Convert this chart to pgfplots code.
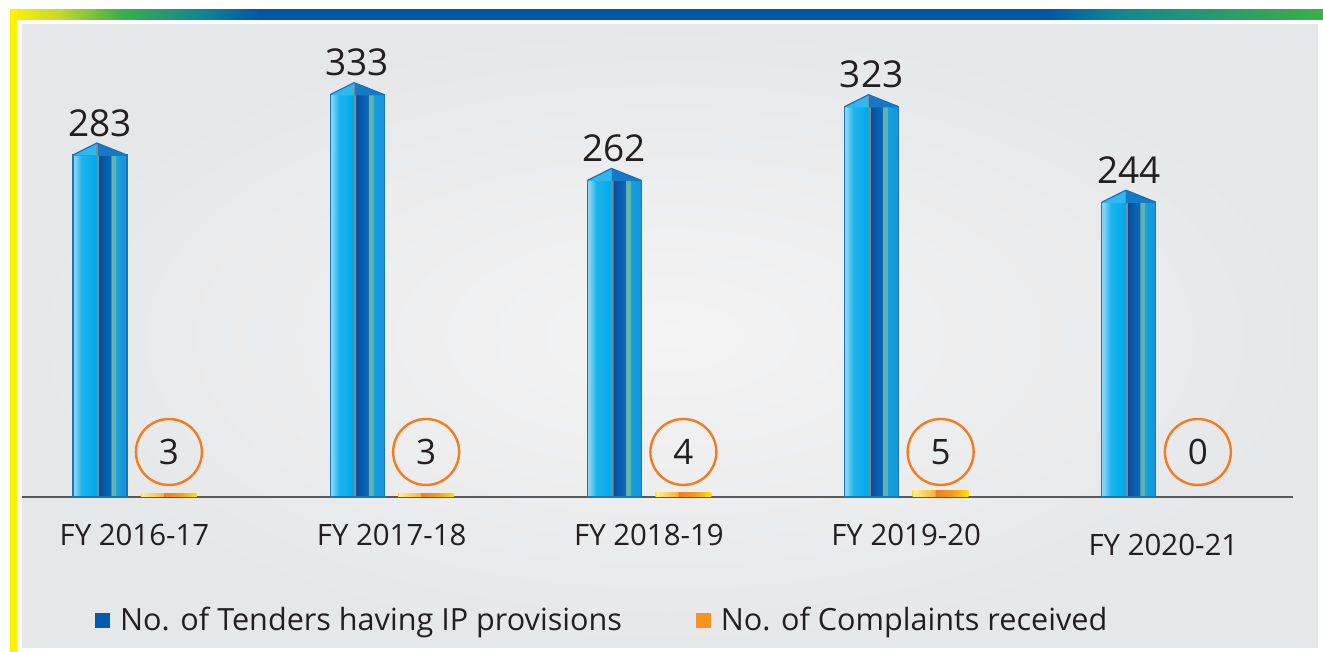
\documentclass[border=0pt]{standalone}
\usepackage{pgfplots}
\pgfplotsset{compat=1.18}
\usepackage{fontspec}
\setmainfont{Open Sans}
\usetikzlibrary{shadings}

\definecolor{textc}{HTML}{231F20}
\definecolor{yelbar}{HTML}{FFF200}
\definecolor{tyg}{HTML}{C4D82E}
\definecolor{tgreen}{HTML}{3DAE49}
\definecolor{tteal}{HTML}{138790}
\definecolor{tblue}{HTML}{0057A8}
\definecolor{panelin}{HTML}{F4F4F5}
\definecolor{panelout}{HTML}{E6E7E8}
\definecolor{axisc}{HTML}{58595B}
% blue bar colours
\definecolor{bA}{HTML}{1B75BC}
\definecolor{b1}{HTML}{86D5F7}
\definecolor{b2}{HTML}{1CB4EE}
\definecolor{b3}{HTML}{00A9EA}
\definecolor{bg}{HTML}{7A8C99}
\definecolor{b4}{HTML}{064E9E}
\definecolor{b5}{HTML}{0B69B6}
\definecolor{bgr}{HTML}{62B3AE}
\definecolor{b6}{HTML}{12A2E0}
\definecolor{b7}{HTML}{1B92D8}
\definecolor{roofL}{HTML}{2DB9F0}
\definecolor{roofR}{HTML}{1479C6}
\definecolor{roofE}{HTML}{1B6FBF}
% orange bar colours
\definecolor{o1}{HTML}{FFE600}
\definecolor{o2}{HTML}{FFF08A}
\definecolor{o3}{HTML}{F9B233}
\definecolor{o4}{HTML}{F07E1F}
\definecolor{o5}{HTML}{F59A1B}
\definecolor{o6}{HTML}{FFDD00}
\definecolor{legblue}{HTML}{005BAA}
\definecolor{legorange}{HTML}{F7941D}
\definecolor{circorange}{HTML}{F47B20}

\pgfdeclarehorizontalshading{topbar}{100bp}{color(0bp)=(yelbar); color(25bp)=(yelbar); color(26.9bp)=(tyg); color(29.2bp)=(tgreen); color(32.2bp)=(tteal); color(34.5bp)=(tblue); color(64.5bp)=(tblue); color(67.2bp)=(tteal); color(75bp)=(tgreen); color(100bp)=(tgreen)}

\pgfdeclarehorizontalshading{bluebar}{100bp}{color(0bp)=(b1); color(25bp)=(b1); color(26.5bp)=(b1); color(33bp)=(b2); color(46.5bp)=(b3); color(47bp)=(bg); color(48.5bp)=(bg); color(49bp)=(b4); color(60bp)=(b5); color(60.5bp)=(bgr); color(64.5bp)=(bgr); color(65bp)=(b6); color(75bp)=(b7); color(100bp)=(b7)}

\pgfdeclarehorizontalshading{orangebar}{100bp}{color(0bp)=(o1); color(25bp)=(o1); color(26bp)=(o2); color(45bp)=(o3); color(45.5bp)=(o4); color(60bp)=(o5); color(74bp)=(o6); color(75bp)=(o1); color(100bp)=(o1)}

\pgfdeclareplotmark{roof}{%
  \pgfsetfillcolor{roofL}%
  \pgfpathmoveto{\pgfqpoint{-30.75pt}{-0.35pt}}%
  \pgfpathlineto{\pgfqpoint{-30.75pt}{0pt}}%
  \pgfpathlineto{\pgfqpoint{-18.75pt}{6pt}}%
  \pgfpathlineto{\pgfqpoint{-18.75pt}{-0.35pt}}%
  \pgfpathclose\pgfusepathqfill
  \pgfsetfillcolor{roofR}%
  \pgfpathmoveto{\pgfqpoint{-18.75pt}{-0.35pt}}%
  \pgfpathlineto{\pgfqpoint{-18.75pt}{6pt}}%
  \pgfpathlineto{\pgfqpoint{-3.75pt}{0pt}}%
  \pgfpathlineto{\pgfqpoint{-3.75pt}{-0.35pt}}%
  \pgfpathclose\pgfusepathqfill
  \pgfsetlinewidth{0.6pt}%
  \pgfsetstrokecolor{bg}%
  \pgfpathmoveto{\pgfqpoint{-18.75pt}{6pt}}%
  \pgfpathlineto{\pgfqpoint{-18.75pt}{-0.3pt}}%
  \pgfusepathqstroke
  \pgfsetstrokecolor{roofE}%
  \pgfsetroundjoin
  \pgfpathmoveto{\pgfqpoint{-30.75pt}{0pt}}%
  \pgfpathlineto{\pgfqpoint{-18.75pt}{6pt}}%
  \pgfpathlineto{\pgfqpoint{-3.75pt}{0pt}}%
  \pgfusepathqstroke
}

\pgfplotsset{
  bluebar/.style={ybar, bar width=27pt, bar shift=-17.25pt, shading=bluebar, draw=bA, line width=0.6pt, forget plot,
    nodes near coords,
    every node near coord/.append style={font=\fontsize{18.5}{20}\selectfont, text=textc, anchor=base, inner sep=0pt, xshift=-17.25pt, yshift=9.5pt}},
  orangebar/.style={ybar, bar width=28pt, bar shift=17.25pt, shading=orangebar, draw=none, forget plot},
}

\begin{document}
\begin{tikzpicture}
\begin{scope}[x=0.5pt,y=-0.5pt,shift={(0pt,326pt)}]
\path[use as bounding box] (0,0) rectangle (1323,652);
\fill[white] (0,0) rectangle (1323,652);
\fill[shading=topbar] (10,10) rectangle (1323,20);
\fill[yelbar] (10,10) rectangle (17,652);
\fill[inner color=panelin, outer color=panelout] (22,25) rectangle (1318,648);
\end{scope}

\begin{axis}[
  at={(11pt,77.5pt)}, anchor=south west,
  scale only axis, width=635.5pt, height=217.5pt,
  xmin=-0.437, xmax=4.504, ymin=0, ymax=360,
  clip=false,
  axis x line=bottom, axis y line=none,
  x axis line style={-, draw=axisc, line width=0.75pt},
  xtick={0,1,2,3,4},
  xticklabels={FY 2016-17, FY 2017-18, FY 2018-19, FY 2019-20, {\raisebox{-5pt}[\height]{FY 2020-21}}},
  xtick style={draw=none},
  ytick=\empty,
  xticklabel style={font=\fontsize{14.7}{17}\selectfont, text=textc, anchor=north, inner sep=0pt, yshift=-11.5pt},
  /pgf/number format/assume math mode=true,
  legend columns=2,
  legend style={at={(0.0574,-0.2828)}, anchor=west, draw=none, fill=none, inner sep=0pt,
    font=\fontsize{15.3}{18}\selectfont, text=textc,
    /tikz/every even column/.append style={column sep=35pt}},
  legend cell align=left,
]
% Tenders having IP provisions
\addplot[bluebar] coordinates {(0,283)};
\addplot[bluebar] coordinates {(1,333)};
\addplot[bluebar] coordinates {(2,262)};
\addplot[bluebar] coordinates {(3,323)};
\addplot[bluebar] coordinates {(4,244)};
\addplot[only marks, mark=roof, forget plot]
  coordinates {(0,283) (1,333) (2,262) (3,323) (4,244)};
% Complaints received
\addplot[orangebar] coordinates {(0,3)};
\addplot[orangebar] coordinates {(1,3)};
\addplot[orangebar] coordinates {(2,4)};
\addplot[orangebar] coordinates {(3,5)};
\addplot[orangebar] coordinates {(4,0)};
\addplot[ybar, bar width=28pt, bar shift=17.25pt, draw=none, fill=none, forget plot,
  point meta=explicit, nodes near coords,
  every node near coord/.append style={circle, draw=circorange, line width=1.2pt, minimum size=33pt, inner sep=0pt, anchor=center, xshift=17.25pt, yshift=22.5pt, font=\fontsize{17.5}{19}\selectfont, text=textc}]
  coordinates {(0,0) [3] (1,0) [3] (2,0) [4] (3,0) [5] (4,0) [0]};
\addlegendimage{legend image code/.code={\fill[legblue] (0pt,-3.5pt) rectangle (7pt,3.5pt); \path (10pt,0pt);}}
\addlegendentry{No. of Tenders having IP provisions}
\addlegendimage{legend image code/.code={\fill[legorange] (0pt,-3.5pt) rectangle (7pt,3.5pt); \path (10pt,0pt);}}
\addlegendentry{No. of Complaints received}
\end{axis}
\end{tikzpicture}
\end{document}
